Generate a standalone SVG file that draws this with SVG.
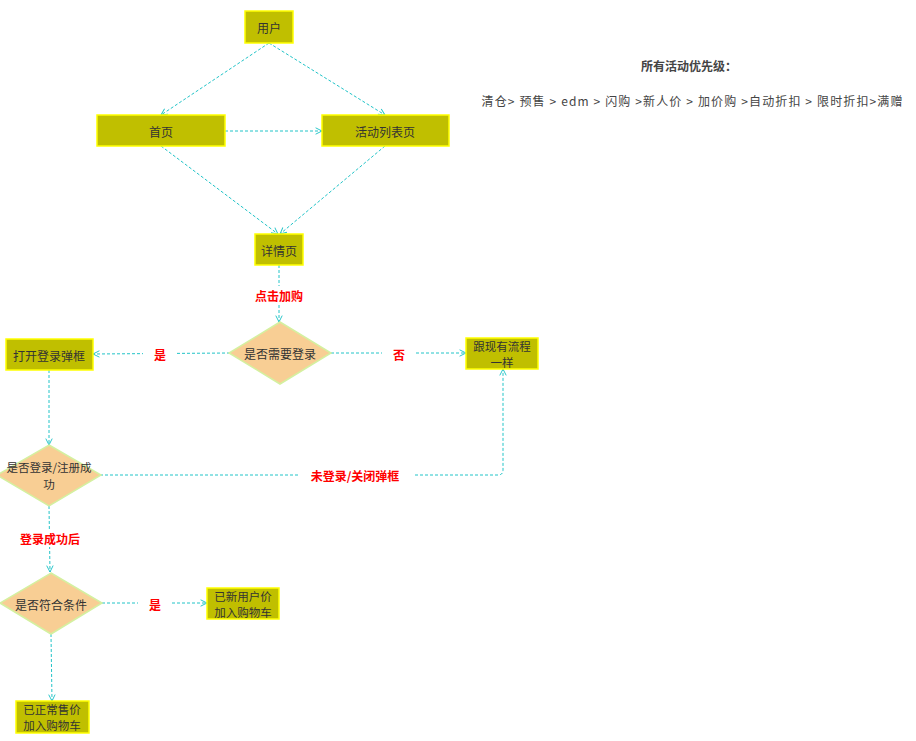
<svg xmlns="http://www.w3.org/2000/svg" width="916" height="741" viewBox="0 0 916 741">
<defs>
<marker id="arr" viewBox="0 0 10 10" refX="9" refY="5" markerWidth="8" markerHeight="8" orient="auto" markerUnits="userSpaceOnUse">
<path d="M1,1 L9,5 L1,9" fill="none" stroke="#22c4c8" stroke-width="1.2"/>
</marker>
<style>
text{font-family:"Noto Sans CJK SC","Liberation Sans",sans-serif;font-size:12px;text-anchor:middle;dominant-baseline:central}
.box{fill:#c0bf00;stroke:#ffff00;stroke-width:1.5}
.dia{fill:#f8ce94;stroke:#d4f0a0;stroke-width:1.5}
.nt{fill:#333333}
.nt2{fill:#333333;font-size:11.5px}
.lbl{fill:#ff0000;font-weight:bold}
.lbg{fill:#ffffff}
.c{fill:none;stroke:#22c4c8;stroke-width:1;stroke-dasharray:3 2;marker-end:url(#arr)}
.info{fill:#444444}
</style>
</defs>
<rect width="916" height="741" fill="#ffffff"/>
<g id="connectors">
<path class="c" d="M269,43 L161,115"/>
<path class="c" d="M269,43 L385,115"/>
<path class="c" d="M225,131 L322,131"/>
<path class="c" d="M161,146 L278,234"/>
<path class="c" d="M385,146 L280,234"/>
<path class="c" d="M279,265 L279,322"/>
<path class="c" d="M230,353 L93,354"/>
<path class="c" d="M331,353 L466,353"/>
<path class="c" d="M49,370 L49,445"/>
<path class="c" d="M100,475 L498,475 Q503,475 503,470 L503,369"/>
<path class="c" d="M49,506 L50,572"/>
<path class="c" d="M102,603 L207,603"/>
<path class="c" d="M51,634 L52,701"/>
<rect class="lbg" x="250" y="286" width="58" height="18"/>
<text class="lbl" x="279" y="295">点击加购</text>
<rect class="lbg" x="143" y="345" width="34" height="18"/>
<text class="lbl" x="160" y="354">是</text>
<rect class="lbg" x="382" y="345" width="34" height="18"/>
<text class="lbl" x="399" y="354">否</text>
<rect class="lbg" x="298" y="466" width="116" height="18"/>
<text class="lbl" x="355" y="475">未登录/关闭弹框</text>
<rect class="lbg" x="14" y="529" width="72" height="18"/>
<text class="lbl" x="50" y="538">登录成功后</text>
<rect class="lbg" x="138" y="595" width="34" height="18"/>
<text class="lbl" x="155" y="604">是</text>
</g>
<g id="n-user"><rect class="box" x="245" y="11" width="48" height="32"/><text class="nt" x="269" y="27">用户</text></g>
<g id="n-home"><rect class="box" x="97" y="115" width="128" height="31"/><text class="nt" x="161" y="131">首页</text></g>
<g id="n-list"><rect class="box" x="322" y="115" width="127" height="31"/><text class="nt" x="385" y="131">活动列表页</text></g>
<g id="n-detail"><rect class="box" x="255" y="234" width="48" height="31"/><text class="nt" x="279" y="250">详情页</text></g>
<g id="d-need-login"><polygon class="dia" points="280,322 331,353 280,384 229,353"/><text class="nt" x="280" y="353">是否需要登录</text></g>
<g id="n-open-login"><rect class="box" x="6" y="339" width="87" height="31"/><text class="nt" x="49" y="355">打开登录弹框</text></g>
<g id="n-same-flow"><rect class="box" x="466" y="338" width="72" height="31"/><text class="nt2" x="502" y="345.5">跟现有流程</text><text class="nt2" x="502" y="361.5">一样</text></g>
<g id="d-login-ok"><polygon class="dia" points="49,445 101,475 49,506 -3,475"/><text class="nt2" x="49" y="466.5">是否登录/注册成</text><text class="nt2" x="49" y="483.5">功</text></g>
<g id="d-cond"><polygon class="dia" points="51,573 102,603 51,634 0,603"/><text class="nt" x="51" y="604">是否符合条件</text></g>
<g id="n-new-price"><rect class="box" x="207" y="588" width="72" height="31"/><text class="nt2" x="243" y="595.5">已新用户价</text><text class="nt2" x="243" y="611.5">加入购物车</text></g>
<g id="n-normal-price"><rect class="box" x="16" y="701" width="73" height="32"/><text class="nt2" x="52" y="708.5">已正常售价</text><text class="nt2" x="52" y="725">加入购物车</text></g>
<g id="info">
<text class="info" x="689" y="65" style="font-weight:bold">所有活动优先级：</text>
<text class="info" x="692" y="100" textLength="421" lengthAdjust="spacing">清仓&gt; 预售 &gt; edm &gt; 闪购 &gt;新人价 &gt; 加价购 &gt;自动折扣 &gt; 限时折扣&gt;满赠</text>
</g>
</svg>
